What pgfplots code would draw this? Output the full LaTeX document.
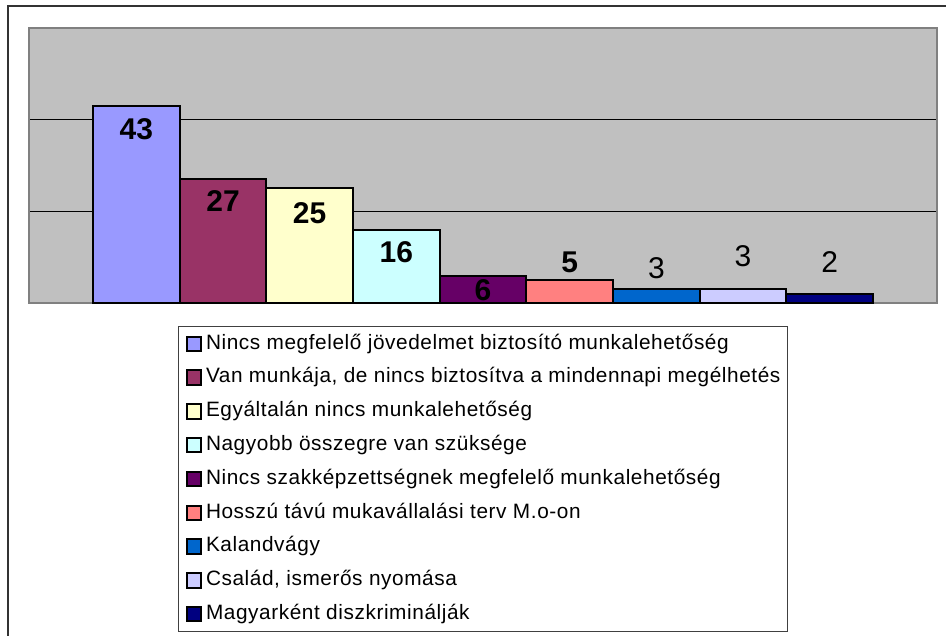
\documentclass[border=0pt]{standalone}
\usepackage{pgfplots}
\pgfplotsset{compat=1.18}
\usepackage{fontspec}
\setmainfont{Liberation Sans}
\newfontfamily\legfont{Liberation Sans}[LetterSpace=2.8]

\definecolor{c1}{HTML}{9999FF}
\definecolor{c2}{HTML}{993366}
\definecolor{c3}{HTML}{FFFFCC}
\definecolor{c4}{HTML}{CCFFFF}
\definecolor{c5}{HTML}{660066}
\definecolor{c6}{HTML}{FF8080}
\definecolor{c7}{HTML}{0066CC}
\definecolor{c8}{HTML}{CCCCFF}
\definecolor{c9}{HTML}{000080}
\definecolor{plotbg}{HTML}{C0C0C0}
\definecolor{framegray}{HTML}{808080}

\begin{document}
\begin{tikzpicture}
\begin{axis}[
    at={(0pt,0pt)}, anchor=south west,
    width=454pt, height=137.5pt, scale only axis,
    ybar, bar width=1,
    xmin=-1.2385, xmax=9.2385,
    ymin=0, ymax=60,
    xtick=\empty,
    ytick={20,40}, yticklabels={},
    major tick length=0pt,
    ymajorgrids=true,
    grid style={black, line width=0.6pt},
    axis line style={framegray, line width=1.2pt},
    axis background/.style={fill=plotbg},
    clip=false,
    legend cell align=left,
    legend image code/.code={\draw[#1, line width=1pt] (0pt,-3.6pt) rectangle (7.2pt,3.6pt);},
    legend style={at={(0.1641,-0.0836)}, anchor=north west,
        draw=black!75, line width=0.6pt,
        font=\legfont\fontsize{10.4}{12}\selectfont,
        inner xsep=3.5pt, inner ysep=3.8pt,
        row sep=7.2pt, column sep=2pt,
        nodes={inner sep=0pt, text height=7.5pt, text depth=2.2pt}},
]
% egy oszlop = egy sorozat
\addplot[fill=c1, draw=black, line width=1pt, bar shift=0pt] coordinates {(0,43)};
\addlegendentry{Nincs megfelelő jövedelmet biztosító munkalehetőség}
\addplot[fill=c2, draw=black, line width=1pt, bar shift=0pt] coordinates {(1,27)};
\addlegendentry{Van munkája, de nincs biztosítva a mindennapi megélhetés}
\addplot[fill=c3, draw=black, line width=1pt, bar shift=0pt] coordinates {(2,25)};
\addlegendentry{Egyáltalán nincs munkalehetőség}
\addplot[fill=c4, draw=black, line width=1pt, bar shift=0pt] coordinates {(3,16)};
\addlegendentry{Nagyobb összegre van szüksége}
\addplot[fill=c5, draw=black, line width=1pt, bar shift=0pt] coordinates {(4,6)};
\addlegendentry{Nincs szakképzettségnek megfelelő munkalehetőség}
\addplot[fill=c6, draw=black, line width=1pt, bar shift=0pt] coordinates {(5,5)};
\addlegendentry{Hosszú távú mukavállalási terv M.o-on}
\addplot[fill=c7, draw=black, line width=1pt, bar shift=0pt] coordinates {(6,3)};
\addlegendentry{Kalandvágy}
\addplot[fill=c8, draw=black, line width=1pt, bar shift=0pt] coordinates {(7,3)};
\addlegendentry{Család, ismerős nyomása}
\addplot[fill=c9, draw=black, line width=1pt, bar shift=0pt] coordinates {(8,2)};
\addlegendentry{Magyarként diszkriminálják}

\node[font=\fontsize{15}{18}\selectfont\bfseries] at (axis cs:0,38.0) {43};
\node[font=\fontsize{15}{18}\selectfont\bfseries] at (axis cs:1,22.3) {27};
\node[font=\fontsize{15}{18}\selectfont\bfseries] at (axis cs:2,19.7) {25};
\node[font=\fontsize{15}{18}\selectfont\bfseries] at (axis cs:3,11.0) {16};
\node[font=\fontsize{15}{18}\selectfont\bfseries] at (axis cs:4,2.85) {6};
\node[font=\fontsize{15}{18}\selectfont\bfseries] at (axis cs:5,8.95) {5};
\node[font=\fontsize{15}{18}\selectfont] at (axis cs:6,7.5) {3};
\node[font=\fontsize{15}{18}\selectfont] at (axis cs:7,10.25) {3};
\node[font=\fontsize{15}{18}\selectfont] at (axis cs:8,8.85) {2};
\end{axis}
\draw[black!80, line width=0.9pt] (-10.5pt,148.5pt) rectangle (480pt,-180pt);
\pgfresetboundingbox
\useasboundingbox (-14.5pt,151.5pt) rectangle (458.5pt,-166.5pt);
\end{tikzpicture}
\end{document}
